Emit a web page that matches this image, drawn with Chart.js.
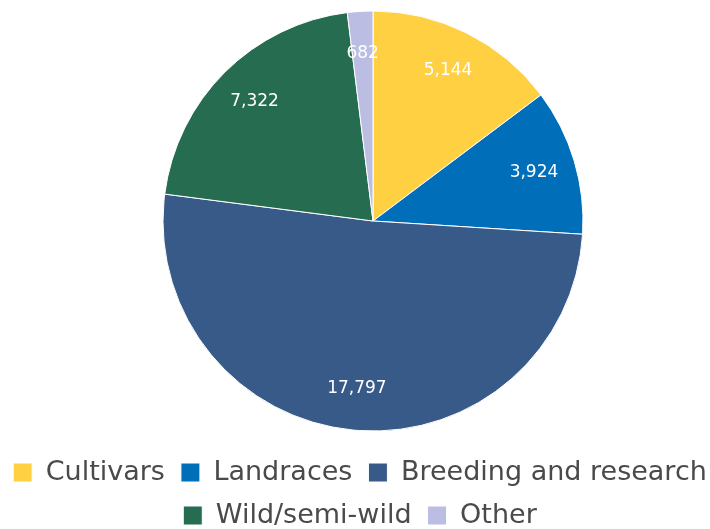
<!DOCTYPE html>
<html>
<head>
<meta charset="utf-8">
<script src="https://cdn.jsdelivr.net/npm/chart.js@4.4.1/dist/chart.umd.min.js"></script>
<style>
  html, body { margin: 0; padding: 0; background: #fff; overflow: hidden; width: 710px; height: 529px; }
  #wrap { position: absolute; left: -20px; top: 0; width: 760px; height: 529px; }
</style>
</head>
<body>
<div id="wrap"><canvas id="c" width="760" height="529"></canvas></div>
<script>
const categories = ["Cultivars", "Landraces", "Breeding and research", "Wild/semi-wild", "Other"];
const values = [5144, 3924, 17797, 7322, 682];
const colors = ["#FFD042", "#006EB8", "#385A88", "#266C50", "#BBBDE2"];

const PIE_CX = 393, PIE_CY = 221, PIE_R = 210;

const placePie = {
  id: 'placePie',
  afterLayout(chart) {
    const a = chart.chartArea;
    a.left = PIE_CX - 221; a.right = PIE_CX + 221;
    a.top = PIE_CY - 221; a.bottom = PIE_CY + 221;
    a.width = 442; a.height = 442;
  }
};

const sliceLabels = {
  id: 'sliceLabels',
  afterDatasetsDraw(chart) {
    const ctx = chart.ctx;
    const meta = chart.getDatasetMeta(0);
    ctx.save();
    ctx.fillStyle = '#ffffff';
    ctx.font = '17px "DejaVu Sans", sans-serif';
    ctx.textAlign = 'center';
    ctx.textBaseline = 'middle';
    meta.data.forEach((arc, i) => {
      const p = arc.getProps(['x', 'y', 'startAngle', 'endAngle', 'outerRadius'], true);
      const mid = (p.startAngle + p.endAngle) / 2;
      const r = p.outerRadius * 0.8;
      ctx.fillText(values[i].toLocaleString('en-US'), p.x + Math.cos(mid) * r, p.y + Math.sin(mid) * r);
    });
    ctx.restore();
  }
};

new Chart(document.getElementById('c'), {
  type: 'pie',
  data: {
    labels: categories,
    datasets: [{
      data: values,
      backgroundColor: colors,
      borderColor: '#ffffff',
      borderWidth: 1,
      radius: PIE_R,
      clip: false
    }]
  },
  options: {
    responsive: false,
    animation: false,
    devicePixelRatio: 1,
    plugins: {
      legend: {
        position: 'bottom',
        maxHeight: 86,
        labels: {
          boxWidth: 19,
          boxHeight: 19,
          padding: 16,
          color: '#4a4a4a',
          font: { family: '"DejaVu Sans", sans-serif', size: 27 }
        }
      },
      tooltip: { enabled: false }
    }
  },
  plugins: [placePie, sliceLabels]
});
</script>
</body>
</html>
